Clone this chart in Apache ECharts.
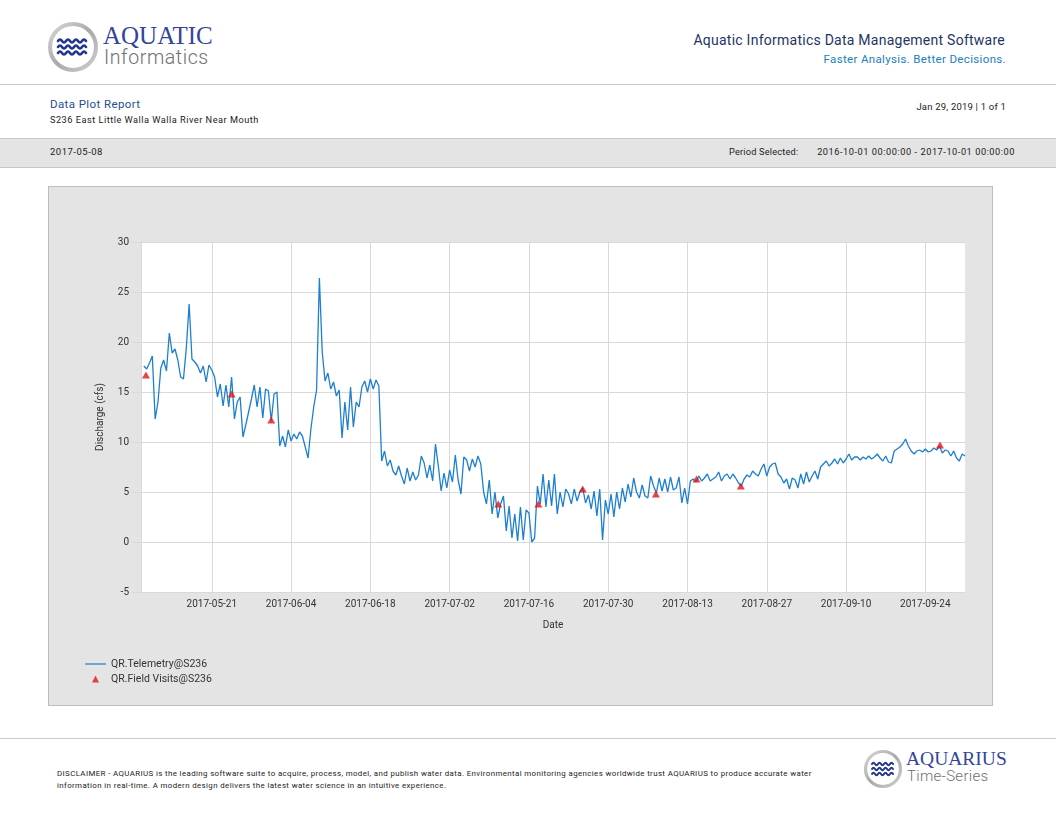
<!DOCTYPE html>
<html>
<head>
<meta charset="utf-8">
<title>Data Plot Report</title>
<script src="https://cdn.jsdelivr.net/npm/echarts@6/dist/echarts.min.js"></script>
<style>
  html, body { margin: 0; padding: 0; background: #fff; }
  body { width: 1056px; height: 816px; position: relative; overflow: hidden; font-family: Roboto, "Noto Sans", sans-serif; color: #222; }
  .abs { position: absolute; white-space: nowrap; }
  .rule { position: absolute; left: 0; width: 1056px; height: 0; border-top: 1px solid #c8c8c8; }
  #band { position: absolute; left: 0; top: 138px; width: 1056px; height: 30px; background: #e4e4e4;
          border-top: 1px solid #c8c8c8; border-bottom: 1px solid #c8c8c8; box-sizing: border-box; }
  #box { position: absolute; left: 48px; top: 186px; width: 945px; height: 520px; background: #e4e4e4;
         border: 1px solid #bdbdbd; box-sizing: border-box; }
  #chart { width: 943px; height: 518px; }
</style>
</head>
<body>

<!-- header logo -->
<svg class="abs" style="left:46px;top:20px" width="56" height="56" viewBox="0 0 56 56">
  <defs>
    <linearGradient id="ring" x1="0" y1="0" x2="1" y2="1">
      <stop offset="0" stop-color="#d8d8d8"/><stop offset="0.5" stop-color="#a9a9a9"/><stop offset="1" stop-color="#cfcfcf"/>
    </linearGradient>
  </defs>
  <circle cx="27" cy="27" r="23" fill="#fff" stroke="url(#ring)" stroke-width="4"/>
  <g fill="none" stroke="#24368c" stroke-width="2.6" stroke-linecap="round">
    <path d="M12,21 q2,-3 4,0 t4,0 t4,0 t4,0 t4,0 t4,0 t4,0"/>
    <path d="M12,27 q2,-3 4,0 t4,0 t4,0 t4,0 t4,0 t4,0 t4,0"/>
    <path d="M12,33 q2,-3 4,0 t4,0 t4,0 t4,0 t4,0 t4,0 t4,0"/>
  </g>
</svg>
<div class="abs" style="left:103px;top:22px;font-family:'Liberation Serif','DejaVu Serif',serif;font-size:25px;color:#34449a;">AQUATIC</div>
<div class="abs" style="left:104px;top:46px;font-size:19.5px;font-weight:300;color:#707070;letter-spacing:0.6px;">Informatics</div>

<div class="abs" style="right:51px;top:32px;font-size:14px;color:#1f3563;letter-spacing:0.25px;">Aquatic Informatics Data Management Software</div>
<div class="abs" style="right:50px;top:52px;font-size:11.5px;color:#1b80bb;letter-spacing:0.35px;">Faster Analysis. Better Decisions.</div>

<div class="rule" style="top:84px"></div>

<div class="abs" style="left:50px;top:97px;font-size:11.5px;color:#1f4f8f;letter-spacing:0.4px;">Data Plot Report</div>
<div class="abs" style="left:50px;top:114px;font-size:9.2px;color:#222;letter-spacing:0.5px;">S236 East Little Walla Walla River Near Mouth</div>
<div class="abs" style="right:50px;top:101px;font-size:9.5px;color:#222;letter-spacing:0.2px;">Jan 29, 2019 | 1 of 1</div>

<div id="band"></div>
<div class="abs" style="left:50px;top:146px;font-size:9.5px;color:#222;letter-spacing:0.5px;">2017-05-08</div>
<div class="abs" style="left:729px;top:146px;font-size:9.2px;color:#222;letter-spacing:0.2px;">Period Selected:</div>
<div class="abs" style="right:41px;top:146px;font-size:9.2px;color:#222;letter-spacing:0.55px;">2016-10-01 00:00:00 - 2017-10-01 00:00:00</div>

<div id="box"><div id="chart"></div></div>

<div class="rule" style="top:738px"></div>

<div class="abs" style="left:57px;top:768px;font-size:7.9px;line-height:12px;color:#222;letter-spacing:0.38px;">DISCLAIMER - AQUARIUS is the leading software suite to acquire, process, model, and publish water data. Environmental monitoring agencies worldwide trust AQUARIUS to produce accurate water<br>information in real-time. A modern design delivers the latest water science in an intuitive experience.</div>

<!-- footer logo -->
<svg class="abs" style="left:862px;top:748px" width="42" height="42" viewBox="0 0 42 42">
  <circle cx="21" cy="21" r="17.5" fill="#fff" stroke="url(#ring)" stroke-width="3.2"/>
  <g fill="none" stroke="#24368c" stroke-width="2" stroke-linecap="round">
    <path d="M10,16 q1.5,-2.4 3,0 t3,0 t3,0 t3,0 t3,0 t3,0 t3,0"/>
    <path d="M10,21 q1.5,-2.4 3,0 t3,0 t3,0 t3,0 t3,0 t3,0 t3,0"/>
    <path d="M10,26 q1.5,-2.4 3,0 t3,0 t3,0 t3,0 t3,0 t3,0 t3,0"/>
  </g>
</svg>
<div class="abs" style="left:906px;top:748px;font-family:'Liberation Serif','DejaVu Serif',serif;font-size:19.5px;color:#34449a;">AQUARIUS</div>
<div class="abs" style="left:907px;top:767px;font-size:15px;font-weight:300;color:#707070;letter-spacing:0.3px;">Time-Series</div>

<script>
// discharge (cfs), one reading every 12 h from 2017-05-09 00:00
var telemetryStart = '2017-05-09T00:00:00';
var stepHours = 12;
var telemetry = [
  17.6, 17.3, 17.9, 18.6, 12.3, 14.0, 17.4, 18.2, 17.1, 20.9,
  18.9, 19.3, 18.2, 16.5, 16.3, 19.4, 23.8, 18.3, 18.0, 17.6,
  16.9, 17.6, 16.0, 17.7, 17.2, 16.5, 14.5, 15.8, 13.6, 15.7,
  13.5, 16.5, 12.3, 14.0, 14.5, 10.5, 11.7, 13.0, 14.3, 15.7,
  13.5, 15.5, 12.4, 15.3, 15.1, 12.1, 14.8, 15.0, 9.6, 10.6,
  9.5, 11.2, 10.1, 10.8, 10.3, 11.0, 10.6, 9.5, 8.4, 11.3,
  13.5, 15.2, 26.4, 19.0, 16.1, 16.9, 15.3, 16.0, 14.6, 15.2,
  10.4, 14.0, 11.2, 15.5, 11.5, 14.0, 13.5, 15.5, 16.1, 15.0,
  16.3, 15.3, 16.2, 15.6, 8.1, 9.1, 7.6, 8.2, 7.1, 6.7,
  7.6, 6.6, 5.8, 7.4, 6.1, 7.0, 6.2, 6.7, 8.6, 7.9,
  6.4, 7.7, 6.1, 9.8, 7.6, 5.1, 6.9, 5.4, 7.2, 6.0,
  8.7, 6.2, 4.8, 8.5, 8.2, 7.1, 8.3, 7.5, 8.6, 7.8,
  5.0, 3.8, 6.2, 2.8, 5.0, 2.4, 3.8, 4.6, 1.1, 3.6,
  0.4, 2.8, 0.1, 3.5, 0.2, 3.2, 2.9, 0.0, 0.4, 5.6,
  3.8, 6.8, 3.5, 6.2, 3.6, 6.8, 2.8, 5.0, 3.5, 5.3,
  4.8, 3.8, 5.3, 4.1, 5.0, 5.4, 3.9, 4.7, 3.3, 5.1,
  2.6, 5.3, 0.2, 4.2, 2.8, 4.8, 2.5, 5.0, 3.3, 5.4,
  4.0, 5.8, 4.5, 6.4, 5.0, 4.4, 5.7, 4.6, 4.4, 6.6,
  5.6, 4.9, 6.4, 5.1, 6.3, 5.0, 6.5, 5.2, 5.4, 6.5,
  3.9, 5.4, 3.8, 6.1, 6.3, 6.0, 6.6, 6.1, 6.4, 6.8,
  6.1, 6.3, 6.5, 7.0, 6.1, 6.6, 6.8, 6.3, 6.8, 6.4,
  5.9, 5.6, 6.3, 6.7, 6.5, 7.1, 6.8, 6.6, 7.3, 7.8,
  6.6, 7.5, 7.8, 7.9, 6.8, 6.5, 5.9, 6.3, 5.3, 6.4,
  6.2, 5.4, 6.8, 5.8, 7.0, 6.0, 6.6, 7.1, 6.3, 7.5,
  7.8, 8.1, 7.6, 7.9, 8.3, 7.8, 8.4, 7.9, 8.3, 8.8,
  8.2, 8.5, 8.5, 8.2, 8.5, 8.3, 8.6, 8.3, 8.5, 8.8,
  8.4, 8.1, 8.6, 8.0, 7.9, 9.1, 9.3, 9.5, 9.8, 10.3,
  9.6, 9.1, 8.8, 9.1, 9.2, 9.0, 9.3, 9.0, 9.1, 9.4,
  9.2, 9.6, 8.9, 9.2, 9.1, 8.6, 9.1, 8.4, 8.1, 8.8,
  8.6
];

var visitTimes = [
  '2017-05-09T09:00:00', '2017-05-24T12:00:00', '2017-05-31T12:00:00',
  '2017-07-10T14:00:00', '2017-07-17T16:00:00', '2017-07-25T12:00:00',
  '2017-08-07T10:00:00', '2017-08-14T14:00:00', '2017-08-22T10:00:00',
  '2017-09-26T14:00:00'
];
var visitValues = [16.7, 14.8, 12.2, 3.8, 3.8, 5.3, 4.8, 6.3, 5.6, 9.7];

var tickDates = [
  '2017-05-21', '2017-06-04', '2017-06-18', '2017-07-02', '2017-07-16',
  '2017-07-30', '2017-08-13', '2017-08-27', '2017-09-10', '2017-09-24'
];

function ts(s) { return new Date(s.length === 10 ? s + 'T00:00:00' : s).getTime(); }

var t0 = ts(telemetryStart);
var lineData = telemetry.map(function (v, i) { return [t0 + i * stepHours * 3600000, v]; });
var visitData = visitTimes.map(function (t, i) { return [ts(t), visitValues[i]]; });
var tickVals = tickDates.map(ts);

var chart = echarts.init(document.getElementById('chart'));
var fontFam = 'Roboto, "Noto Sans", sans-serif';
var gridColor = '#d9d9d9';
var lineColor = '#1c7fd0';
var visitColor = '#e3141b';

chart.setOption({
  animation: false,
  textStyle: { fontFamily: fontFam },
  grid: { left: 92, top: 55, width: 824, height: 350, show: true, backgroundColor: '#fff', borderWidth: 0 },
  legend: {
    orient: 'vertical',
    left: 36, top: 471,
    padding: 0,
    itemWidth: 21, itemHeight: 7, itemGap: 3,
    symbolKeepAspect: true,
    textStyle: { fontSize: 10.5, color: '#333', fontFamily: fontFam, lineHeight: 12 },
    data: [
      { name: 'QR.Telemetry@S236', icon: 'path://M0,0 L21,0 L21,1.2 L0,1.2 Z', itemStyle: { color: lineColor } },
      { name: 'QR.Field Visits@S236', icon: 'path://M3.5,0 L7,7 L0,7 Z', itemStyle: { color: visitColor } }
    ]
  },
  xAxis: {
    type: 'time',
    min: ts('2017-05-08T12:00:00'),
    max: ts('2017-10-01T00:00:00'),
    name: 'Date',
    nameLocation: 'middle',
    nameGap: 28,
    nameTextStyle: { fontSize: 10, color: '#333' },
    axisLine: { show: false },
    axisTick: { show: true, customValues: tickVals, length: 3, lineStyle: { color: gridColor } },
    axisLabel: {
      customValues: tickVals, formatter: '{yyyy}-{MM}-{dd}',
      color: '#333', fontSize: 10, margin: 7, hideOverlap: false
    },
    splitLine: { show: true, lineStyle: { color: gridColor, width: 1 } }
  },
  yAxis: {
    type: 'value',
    min: -5, max: 30, interval: 5,
    name: 'Discharge (cfs)',
    nameLocation: 'middle',
    nameRotate: 90,
    nameGap: 36,
    nameTextStyle: { fontSize: 10, color: '#333' },
    axisLine: { show: true, lineStyle: { color: gridColor } },
    axisTick: { show: true, length: 9, lineStyle: { color: gridColor } },
    axisLabel: { color: '#333', fontSize: 10, margin: 12 },
    splitLine: { show: true, lineStyle: { color: gridColor, width: 1 } }
  },
  series: [
    {
      name: 'QR.Telemetry@S236',
      type: 'line',
      data: lineData,
      symbol: 'none',
      lineStyle: { color: lineColor, width: 1.3 },
      itemStyle: { color: lineColor },
      z: 2
    },
    {
      name: 'QR.Field Visits@S236',
      type: 'scatter',
      data: visitData,
      symbol: 'triangle',
      symbolSize: [8, 7],
      itemStyle: { color: visitColor },
      z: 3
    }
  ]
});
</script>
</body>
</html>
